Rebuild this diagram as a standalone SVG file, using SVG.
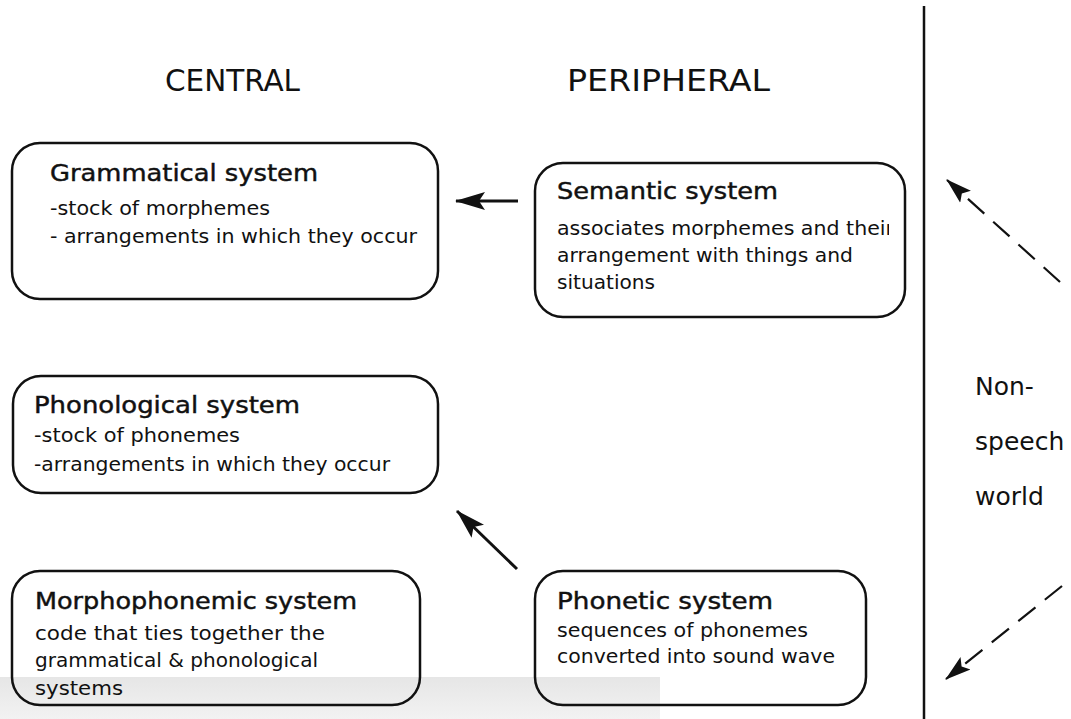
<svg xmlns="http://www.w3.org/2000/svg" width="1071" height="719" viewBox="0 0 1071 719">
  <defs>
    <style>
      .box { fill: none; stroke: #111; stroke-width: 2.5; }
      .title { font-family: "DejaVu Sans", "Liberation Sans", sans-serif; font-size: 23px; fill: #111; stroke: #111; stroke-width: 0.45; }
      .body { font-family: "DejaVu Sans", "Liberation Sans", sans-serif; font-size: 19px; fill: #111; }
      .head { font-family: "DejaVu Sans Condensed", "DejaVu Sans", sans-serif; font-size: 30px; fill: #111; }
      .world { font-family: "DejaVu Sans", "Liberation Sans", sans-serif; font-size: 25px; fill: #111; }
      .solid { stroke: #111; stroke-width: 3; fill: none; }
      .dashed { stroke: #111; stroke-width: 2.2; fill: none; stroke-dasharray: 22 12; }
    </style>
    <marker id="arrow" viewBox="0 0 30 20" refX="29" refY="10" markerWidth="30" markerHeight="20" markerUnits="userSpaceOnUse" orient="auto">
      <path d="M0,1 L30,10 L0,19 L6,10 Z" fill="#111"/>
    </marker>
    <marker id="arrowDash" viewBox="0 0 26 18" refX="25" refY="9" markerWidth="26" markerHeight="18" markerUnits="userSpaceOnUse" orient="auto">
      <path d="M0,1 L26,9 L0,17 L5,9 Z" fill="#111"/>
    </marker>
    <linearGradient id="band" x1="0" y1="0" x2="0" y2="1">
      <stop offset="0" stop-color="#e6e6e6"/>
      <stop offset="1" stop-color="#f2f2f2"/>
    </linearGradient>
    <clipPath id="semClip">
      <rect x="540" y="160" width="349" height="160"/>
    </clipPath>
  </defs>

  <rect width="1071" height="719" fill="#ffffff"/>
  <!-- light grey strip along the lower left edge -->
  <rect x="0" y="677" width="660" height="42" fill="url(#band)"/>

  <!-- divider between speech systems and the outside world -->
  <line x1="924" y1="6" x2="924" y2="719" stroke="#111" stroke-width="2.5"/>

  <!-- column headings -->
  <text class="head" x="165" y="91" textLength="135" lengthAdjust="spacingAndGlyphs">CENTRAL</text>
  <text class="head" x="567" y="91" textLength="203" lengthAdjust="spacingAndGlyphs">PERIPHERAL</text>

  <g id="grammatical">
    <rect class="box" x="12" y="143" width="426" height="156" rx="28"/>
    <text class="title" x="50" y="181" textLength="268" lengthAdjust="spacingAndGlyphs">Grammatical system</text>
    <text class="body" x="50" y="215" textLength="220" lengthAdjust="spacingAndGlyphs">-stock of morphemes</text>
    <text class="body" x="50" y="243" textLength="367" lengthAdjust="spacingAndGlyphs">- arrangements in which they occur</text>
  </g>

  <g id="semantic">
    <rect class="box" x="535" y="163" width="370" height="154" rx="28"/>
    <text class="title" x="557" y="199" textLength="221" lengthAdjust="spacingAndGlyphs">Semantic system</text>
    <g clip-path="url(#semClip)">
      <text class="body" x="557" y="235" textLength="337" lengthAdjust="spacingAndGlyphs">associates morphemes and their</text>
    </g>
    <text class="body" x="557" y="262" textLength="296" lengthAdjust="spacingAndGlyphs">arrangement with things and</text>
    <text class="body" x="557" y="289" textLength="98" lengthAdjust="spacingAndGlyphs">situations</text>
  </g>

  <g id="phonological">
    <rect class="box" x="13" y="376" width="425" height="117" rx="28"/>
    <text class="title" x="34" y="413" textLength="266" lengthAdjust="spacingAndGlyphs">Phonological system</text>
    <text class="body" x="34" y="442" textLength="206" lengthAdjust="spacingAndGlyphs">-stock of phonemes</text>
    <text class="body" x="34" y="471" textLength="356" lengthAdjust="spacingAndGlyphs">-arrangements in which they occur</text>
  </g>

  <g id="morphophonemic">
    <rect class="box" x="12" y="571" width="408" height="134" rx="28"/>
    <text class="title" x="35" y="609" textLength="322" lengthAdjust="spacingAndGlyphs">Morphophonemic system</text>
    <text class="body" x="35" y="640" textLength="290" lengthAdjust="spacingAndGlyphs">code that ties together the</text>
    <text class="body" x="35" y="667" textLength="283" lengthAdjust="spacingAndGlyphs">grammatical &amp; phonological</text>
    <text class="body" x="35" y="695" textLength="88" lengthAdjust="spacingAndGlyphs">systems</text>
  </g>

  <g id="phonetic">
    <rect class="box" x="535" y="571" width="331" height="134" rx="28"/>
    <text class="title" x="557" y="609" textLength="216" lengthAdjust="spacingAndGlyphs">Phonetic system</text>
    <text class="body" x="557" y="637" textLength="251" lengthAdjust="spacingAndGlyphs">sequences of phonemes</text>
    <text class="body" x="557" y="663" textLength="278" lengthAdjust="spacingAndGlyphs">converted into sound wave</text>
  </g>

  <g id="world">
    <text class="world" x="975" y="395">Non-</text>
    <text class="world" x="975" y="450">speech</text>
    <text class="world" x="975" y="505">world</text>
  </g>

  <g id="connectors">
    <line class="solid" x1="518" y1="201" x2="456" y2="201" marker-end="url(#arrow)"/>
    <line class="solid" x1="517" y1="569" x2="457" y2="511" marker-end="url(#arrow)"/>
    <line class="dashed" x1="1060" y1="282" x2="947" y2="180" marker-end="url(#arrowDash)"/>
    <line class="dashed" x1="1062" y1="586" x2="946" y2="679" marker-end="url(#arrowDash)"/>
  </g>
</svg>
